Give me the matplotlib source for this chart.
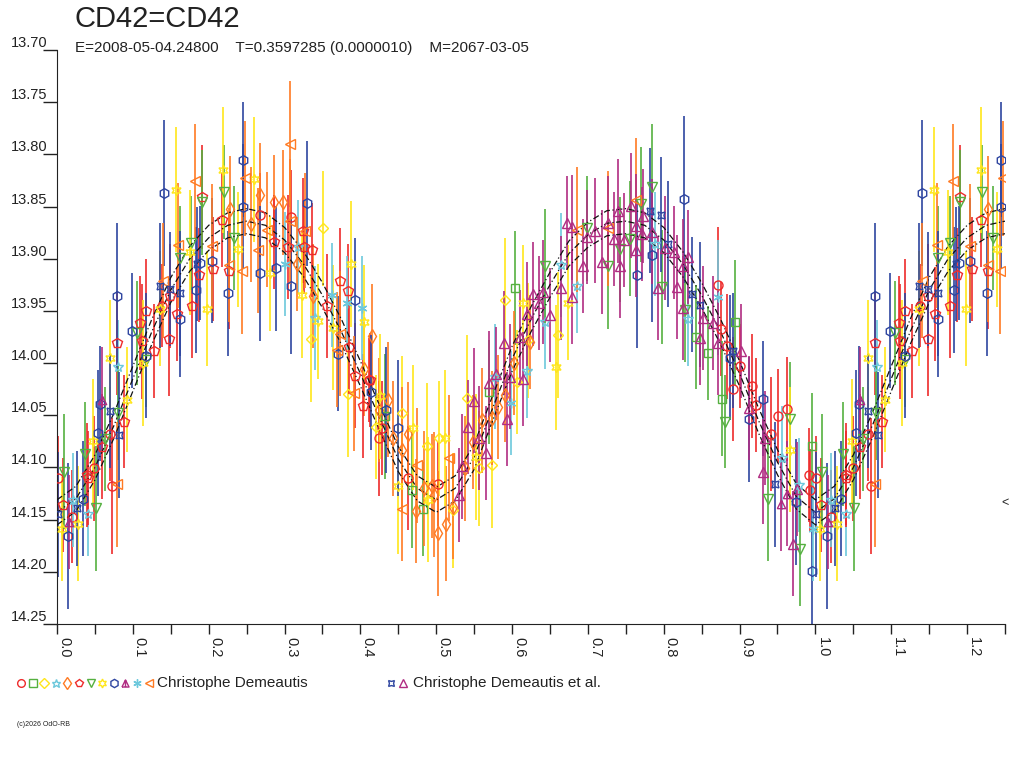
import numpy as np
import matplotlib
matplotlib.use("Agg")
import matplotlib.pyplot as plt
from matplotlib.ticker import MultipleLocator, FormatStrFormatter
from matplotlib.path import Path
import matplotlib.transforms as mtransforms

plt.rcParams['font.family'] = ['Liberation Sans', 'DejaVu Sans']

title = "CD42=CD42"
subtitle = "E=2008-05-04.24800    T=0.3597285 (0.0000010)    M=2067-03-05"
observer1 = "Christophe Demeautis"
observer2 = "Christophe Demeautis et al."

# model light curve (phase, mag)
model_phase = [0.000, 0.025, 0.050, 0.075, 0.100, 0.125, 0.150, 0.175, 0.200, 0.225,
               0.250, 0.275, 0.300, 0.325, 0.350, 0.375, 0.400, 0.425, 0.450, 0.475,
               0.500, 0.525, 0.550, 0.575, 0.600, 0.625, 0.650, 0.675, 0.700, 0.725,
               0.750, 0.775, 0.800, 0.825, 0.850, 0.875, 0.900, 0.925, 0.950, 0.975, 1.000]
model_mag = [14.143, 14.130, 14.100, 14.060, 14.015, 13.970, 13.930, 13.900, 13.880, 13.868,
             13.864, 13.868, 13.882, 13.905, 13.935, 13.970, 14.010, 14.052, 14.092, 14.120,
             14.131, 14.120, 14.090, 14.042, 13.996, 13.958, 13.925, 13.895, 13.877, 13.866,
             13.864, 13.868, 13.882, 13.905, 13.935, 13.970, 14.010, 14.055, 14.095, 14.128, 14.143]
model_spread = 0.012

# observations (phase, mag, error)
red_circle = [(0.001, 14.110, 0.040), (0.020, 14.147, 0.045), (0.049, 14.101, 0.050), (0.070, 14.068, 0.045),
              (0.073, 14.118, 0.065), (0.138, 13.945, 0.040), (0.268, 13.858, 0.040), (0.309, 13.860, 0.045),
              (0.412, 14.016, 0.040), (0.429, 14.062, 0.045), (0.425, 14.072, 0.055), (0.463, 14.110, 0.050),
              (0.503, 14.116, 0.040), (0.872, 13.925, 0.055), (0.876, 13.967, 0.045), (0.884, 13.984, 0.050),
              (0.901, 14.003, 0.040), (0.892, 14.025, 0.050), (0.917, 14.022, 0.050), (0.922, 14.040, 0.045),
              (0.951, 14.051, 0.045), (0.962, 14.044, 0.050), (0.942, 14.068, 0.055), (0.991, 14.107, 0.045),
              (0.993, 14.122, 0.040)]
green_square = [(0.468, 14.122, 0.055), (0.483, 14.140, 0.045), (0.433, 14.051, 0.060), (0.570, 14.028, 0.050),
                (0.604, 13.928, 0.055), (0.843, 13.975, 0.050), (0.859, 13.990, 0.045), (0.894, 13.961, 0.060),
                (0.877, 14.034, 0.055), (0.996, 14.079, 0.050)]
yellow_diamond = [(0.335, 13.977, 0.060), (0.351, 13.871, 0.055), (0.384, 14.030, 0.060), (0.455, 14.048, 0.055),
                  (0.420, 14.061, 0.050), (0.488, 14.079, 0.060), (0.504, 14.072, 0.055), (0.522, 14.141, 0.055),
                  (0.540, 14.033, 0.060), (0.557, 14.101, 0.055), (0.574, 14.098, 0.060), (0.607, 14.018, 0.050),
                  (0.621, 13.978, 0.055), (0.660, 13.973, 0.060), (0.591, 13.940, 0.060)]
cyan_star = [(0.021, 14.131, 0.045), (0.041, 14.145, 0.040), (0.081, 14.004, 0.045), (0.318, 13.889, 0.045),
             (0.340, 13.957, 0.050), (0.577, 14.013, 0.050), (0.620, 14.008, 0.045), (0.644, 13.961, 0.045),
             (0.665, 13.906, 0.050), (0.685, 13.926, 0.045), (0.788, 13.886, 0.050), (0.832, 13.958, 0.045),
             (0.956, 14.091, 0.050), (0.978, 14.117, 0.045)]
orange_diamond = [(0.228, 13.852, 0.050), (0.256, 13.867, 0.055), (0.268, 13.839, 0.050), (0.286, 13.846, 0.045),
                  (0.298, 13.846, 0.050), (0.316, 13.905, 0.045), (0.338, 13.936, 0.050), (0.405, 14.006, 0.045),
                  (0.416, 13.974, 0.050), (0.437, 14.035, 0.055), (0.424, 14.045, 0.050), (0.443, 14.072, 0.055),
                  (0.463, 14.068, 0.050), (0.455, 14.083, 0.060), (0.484, 14.120, 0.055), (0.495, 14.118, 0.050),
                  (0.497, 14.126, 0.060), (0.474, 14.142, 0.050), (0.513, 14.154, 0.055), (0.503, 14.163, 0.060),
                  (0.522, 14.138, 0.050), (0.538, 14.101, 0.050), (0.549, 14.076, 0.045), (0.561, 14.055, 0.050),
                  (0.573, 14.053, 0.045), (0.582, 14.042, 0.050), (0.591, 14.031, 0.045), (0.602, 14.000, 0.050),
                  (0.624, 13.980, 0.045)]
red_pentagon = [(0.008, 14.136, 0.045), (0.040, 14.107, 0.050), (0.041, 14.110, 0.045), (0.059, 14.080, 0.050),
                (0.088, 14.056, 0.045), (0.079, 13.981, 0.050), (0.110, 13.962, 0.045), (0.112, 13.979, 0.055),
                (0.128, 13.988, 0.045), (0.118, 13.950, 0.050), (0.149, 13.936, 0.050), (0.158, 13.953, 0.045),
                (0.148, 13.977, 0.055), (0.178, 13.945, 0.050), (0.187, 13.916, 0.045), (0.191, 13.841, 0.050),
                (0.206, 13.910, 0.050), (0.218, 13.863, 0.045), (0.227, 13.912, 0.055), (0.286, 13.884, 0.045),
                (0.305, 13.889, 0.050), (0.326, 13.889, 0.045), (0.325, 13.873, 0.050), (0.336, 13.892, 0.045),
                (0.373, 13.921, 0.050), (0.384, 13.931, 0.045), (0.356, 13.945, 0.050), (0.385, 13.985, 0.045),
                (0.393, 14.012, 0.050), (0.413, 14.016, 0.045), (0.403, 14.041, 0.050)]
green_tri = [(0.009, 14.104, 0.055), (0.051, 14.139, 0.060), (0.037, 14.087, 0.050), (0.063, 14.073, 0.050),
             (0.080, 14.048, 0.045), (0.105, 13.971, 0.050), (0.118, 13.997, 0.045), (0.162, 13.899, 0.050),
             (0.177, 13.885, 0.045), (0.191, 13.846, 0.050), (0.220, 13.836, 0.045), (0.234, 13.880, 0.050),
             (0.643, 13.907, 0.055), (0.699, 13.871, 0.050), (0.727, 13.907, 0.060), (0.742, 13.891, 0.050),
             (0.755, 13.881, 0.055), (0.770, 13.848, 0.055), (0.785, 13.831, 0.060), (0.798, 13.927, 0.055),
             (0.828, 13.949, 0.050), (0.881, 14.056, 0.045), (0.966, 14.054, 0.055), (0.938, 14.130, 0.060),
             (0.980, 14.178, 0.055)]
yellow_star = [(0.006, 14.159, 0.050), (0.028, 14.154, 0.055), (0.048, 14.075, 0.060), (0.092, 14.035, 0.050),
               (0.070, 13.995, 0.055), (0.114, 14.000, 0.060), (0.136, 13.948, 0.055), (0.157, 13.834, 0.060),
               (0.175, 13.894, 0.060), (0.198, 13.948, 0.055), (0.219, 13.815, 0.060), (0.239, 13.891, 0.055),
               (0.260, 13.824, 0.060), (0.281, 13.914, 0.055), (0.323, 13.935, 0.060), (0.344, 13.960, 0.055),
               (0.364, 13.966, 0.060), (0.387, 13.905, 0.060), (0.405, 13.961, 0.055), (0.426, 14.032, 0.060),
               (0.449, 14.118, 0.065), (0.470, 14.062, 0.060), (0.489, 14.131, 0.060), (0.511, 14.072, 0.065),
               (0.553, 14.090, 0.060), (0.615, 13.942, 0.055), (0.658, 14.004, 0.060), (0.674, 13.942, 0.055),
               (0.966, 14.083, 0.060)]
blue_hex = [(0.015, 14.166, 0.070), (0.034, 14.130, 0.055), (0.054, 14.067, 0.060), (0.057, 14.039, 0.055),
            (0.079, 13.936, 0.070), (0.099, 13.969, 0.055), (0.118, 13.993, 0.060), (0.141, 13.837, 0.070),
            (0.162, 13.958, 0.055), (0.183, 13.930, 0.060), (0.189, 13.904, 0.055), (0.204, 13.902, 0.060),
            (0.226, 13.933, 0.060), (0.245, 13.805, 0.055), (0.245, 13.850, 0.060), (0.268, 13.914, 0.065),
            (0.289, 13.909, 0.060), (0.309, 13.926, 0.065), (0.330, 13.847, 0.060), (0.371, 13.991, 0.055),
            (0.393, 13.940, 0.060), (0.414, 14.028, 0.055), (0.434, 14.045, 0.060), (0.449, 14.062, 0.065),
            (0.765, 13.916, 0.070), (0.785, 13.896, 0.065), (0.827, 13.843, 0.080), (0.888, 13.995, 0.060),
            (0.912, 14.054, 0.060), (0.931, 14.034, 0.055), (0.974, 14.133, 0.060), (0.995, 14.199, 0.080)]
purple_fork = [(0.016, 14.152, 0.045), (0.059, 14.035, 0.050), (0.963, 14.125, 0.050), (0.954, 14.135, 0.045)]
cyan_asterisk = [(0.301, 13.905, 0.050), (0.363, 13.935, 0.050), (0.383, 13.942, 0.045), (0.402, 13.947, 0.050),
                 (0.599, 14.038, 0.050), (0.872, 13.937, 0.055), (0.997, 14.159, 0.050)]
orange_left = [(0.079, 14.116, 0.060), (0.140, 13.921, 0.055), (0.160, 13.887, 0.060), (0.182, 13.826, 0.055),
               (0.204, 13.888, 0.060), (0.227, 13.906, 0.055), (0.244, 13.912, 0.060), (0.248, 13.823, 0.055),
               (0.265, 13.892, 0.060), (0.277, 13.872, 0.055), (0.307, 13.864, 0.060), (0.327, 13.873, 0.055),
               (0.307, 13.790, 0.060), (0.369, 13.987, 0.055), (0.373, 13.972, 0.060), (0.392, 14.029, 0.055),
               (0.455, 14.140, 0.050), (0.475, 14.098, 0.055), (0.517, 14.091, 0.060), (0.686, 13.872, 0.060),
               (0.727, 13.871, 0.055), (0.764, 13.844, 0.060)]
blue_cross = [(0.001, 14.145, 0.060), (0.026, 14.139, 0.055), (0.082, 14.069, 0.060), (0.070, 14.046, 0.055),
              (0.136, 13.926, 0.060), (0.149, 13.929, 0.055), (0.162, 13.933, 0.060), (0.185, 13.905, 0.055),
              (0.782, 13.854, 0.060), (0.797, 13.858, 0.055), (0.806, 13.886, 0.060), (0.837, 13.934, 0.055),
              (0.848, 13.944, 0.060), (0.892, 13.988, 0.055), (0.947, 14.116, 0.060)]
purple_tri = [(0.530, 14.126, 0.045), (0.534, 14.099, 0.050), (0.566, 14.086, 0.045), (0.557, 14.072, 0.050),
              (0.542, 14.061, 0.045), (0.550, 14.036, 0.050), (0.594, 14.054, 0.045), (0.570, 14.019, 0.050),
              (0.579, 14.010, 0.045), (0.597, 14.013, 0.050), (0.615, 14.015, 0.045), (0.589, 13.981, 0.050),
              (0.611, 13.975, 0.045), (0.627, 13.934, 0.050), (0.635, 13.942, 0.045), (0.620, 13.953, 0.050),
              (0.650, 13.954, 0.045), (0.664, 13.928, 0.050), (0.679, 13.937, 0.045), (0.641, 13.932, 0.050),
              (0.672, 13.866, 0.045), (0.679, 13.870, 0.050), (0.699, 13.879, 0.045), (0.710, 13.873, 0.050),
              (0.694, 13.907, 0.045), (0.718, 13.903, 0.050), (0.726, 13.866, 0.045), (0.740, 13.854, 0.050),
              (0.734, 13.881, 0.045), (0.742, 13.907, 0.050), (0.748, 13.882, 0.045), (0.757, 13.849, 0.050),
              (0.773, 13.859, 0.045), (0.763, 13.869, 0.050), (0.763, 13.892, 0.045), (0.785, 13.874, 0.050),
              (0.772, 13.876, 0.045), (0.802, 13.890, 0.050), (0.813, 13.894, 0.045), (0.793, 13.928, 0.050),
              (0.832, 13.898, 0.045), (0.818, 13.927, 0.050), (0.825, 13.907, 0.045), (0.826, 13.947, 0.050),
              (0.848, 13.976, 0.045), (0.852, 13.957, 0.050), (0.865, 13.962, 0.045), (0.871, 13.981, 0.050),
              (0.902, 13.988, 0.045), (0.912, 14.043, 0.050), (0.934, 14.072, 0.045), (0.931, 14.104, 0.050),
              (0.976, 14.121, 0.045), (0.970, 14.173, 0.050)]

RED = '#EE2B2B'
GREEN = '#55B040'
YELLOW = '#FFE61A'
CYAN = '#6CC8DC'
ORANGE = '#FF7A22'
BLUE = '#2E45A0'
PURPLE = '#B02C82'

# triangle with a stem, for the purple marker of the first observer
fork = Path([(-1, -1), (0, 1), (1, -1), (-1, -1), (0, 1), (0, -1)],
            [Path.MOVETO, Path.LINETO, Path.LINETO, Path.LINETO, Path.MOVETO, Path.LINETO])

group1 = [
    (red_circle, 'o', RED, 6.5),
    (green_square, 's', GREEN, 6),
    (yellow_diamond, 'D', YELLOW, 5.5),
    (cyan_star, '*', CYAN, 7.5),
    (orange_diamond, 'd', ORANGE, 7),
    (red_pentagon, 'p', RED, 7),
    (green_tri, 'v', GREEN, 6.5),
    (yellow_star, (6, 1, 0), YELLOW, 7.5),
    (blue_hex, 'h', BLUE, 7),
    (purple_fork, fork, PURPLE, 6),
    (cyan_asterisk, (6, 2, 0), CYAN, 7),
    (orange_left, '<', ORANGE, 6.5),
]
group2 = [
    (blue_cross, (4, 1, 45), BLUE, 7),
    (purple_tri, '^', PURPLE, 6.5),
]

fig = plt.figure(figsize=(10.24, 7.68), dpi=100)
ax = fig.add_axes([57 / 1024, 144 / 768, 948 / 1024, 574 / 768])

for pts, mk, col, ms in group1 + group2:
    ph = [p[0] for p in pts] + [p[0] + 1 for p in pts if p[0] < 0.25]
    mg = [p[1] for p in pts] + [p[1] for p in pts if p[0] < 0.25]
    er = [p[2] for p in pts] + [p[2] for p in pts if p[0] < 0.25]
    ax.errorbar(ph, mg, yerr=er, fmt='none', ecolor=col, elinewidth=1.2, capsize=0, zorder=2)
    ax.plot(ph, mg, linestyle='none', marker=mk, ms=ms, mfc='none', mec=col, mew=1.0, zorder=4)

# model curves
mph = model_phase + [p + 1 for p in model_phase[1:] if p <= 0.25]
mmg = model_mag + [m for p, m in zip(model_phase[1:], model_mag[1:]) if p <= 0.25]
mmg = np.array(mmg)
for off in (-model_spread, 0, model_spread):
    ax.plot(mph, mmg + off, color='#111111', lw=0.9, ls=(0, (5, 2, 1, 2)), zorder=3)

ax.set_xlim(0, 1.25)
ax.set_ylim(14.25, 13.70)
ax.spines['top'].set_visible(False)
ax.spines['right'].set_visible(False)
ax.spines['left'].set_color('#222222')
ax.spines['bottom'].set_color('#222222')

ax.xaxis.set_major_locator(MultipleLocator(0.1))
ax.xaxis.set_minor_locator(MultipleLocator(0.05))
ax.xaxis.set_major_formatter(FormatStrFormatter('%.1f'))
ax.yaxis.set_major_locator(MultipleLocator(0.05))
ax.yaxis.set_major_formatter(FormatStrFormatter('%.2f'))
ax.tick_params(axis='x', which='both', direction='out', length=7.5, width=1, color='#222222',
               labelsize=10.5, pad=2, labelcolor='#222222')
ax.tick_params(axis='y', direction='out', length=10, width=1, color='#222222',
               labelsize=10.5, pad=-3, labelcolor='#222222')
for lbl in ax.get_xticklabels():
    lbl.set_rotation(-90)
    lbl.set_ha('left')
    lbl.set_va('top')
for lbl in ax.get_yticklabels():
    lbl.set_va('bottom')

trans = mtransforms.blended_transform_factory(ax.transAxes, ax.transData)
ax.text(1.004, 14.134, '<', transform=trans, ha='right', va='center', fontsize=9, color='#222222')

fig.text(75 / 1024, 1 - 19 / 768, title, fontsize=21, color='#222222', ha='left', va='center')
fig.text(75 / 1024, 1 - 48 / 768, subtitle, fontsize=11, color='#222222', ha='left', va='center')

# legend
leg = fig.add_axes([0, 0, 1, 1], facecolor='none')
leg.set_xlim(0, 1024)
leg.set_ylim(768, 0)
leg.axis('off')
for i, (pts, mk, col, ms) in enumerate(group1):
    leg.plot(21 + i * 11.6, 683, marker=mk, ms=ms * 0.85, mfc='none', mec=col, mew=1.0, linestyle='none')
leg.text(157, 683, observer1, fontsize=11, color='#222222', ha='left', va='center')
for i, (pts, mk, col, ms) in enumerate(group2):
    leg.plot(391 + i * 12, 683, marker=mk, ms=ms * 0.85, mfc='none', mec=col, mew=1.0, linestyle='none')
leg.text(413, 683, observer2, fontsize=11, color='#222222', ha='left', va='center')
leg.text(17, 725, "(c)2026 OdO-RB", fontsize=5, color='#222222', ha='left', va='center')

fig.savefig('out.png', dpi=100)
